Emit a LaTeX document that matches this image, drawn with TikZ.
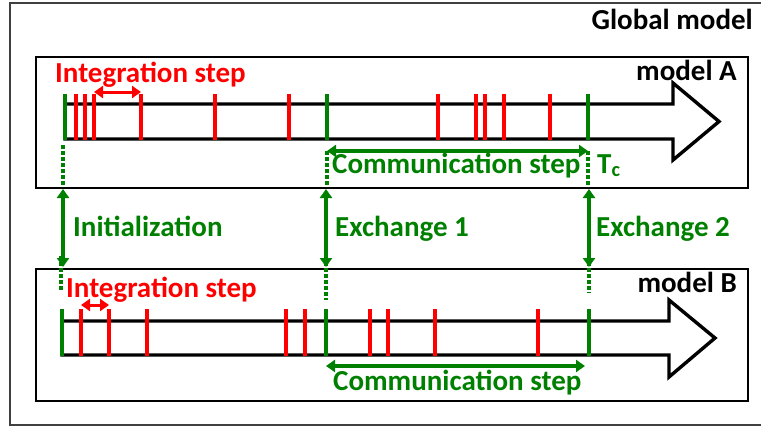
\documentclass[tikz,border=0pt]{standalone}
\usepackage{fontspec}
\setmainfont{Carlito}
\usetikzlibrary{arrows.meta}

\definecolor{simgreen}{RGB}{0,128,0}
\definecolor{simred}{RGB}{255,0,0}

\tikzset{
  lbl/.style={font=\fontsize{29}{32}\selectfont\bfseries, inner sep=0pt},
  globalframe/.style={draw=black!75, line width=1.8pt},
  modelbox/.style={draw=black, line width=1.4pt},
  timeaxis/.style={draw=black, line width=3.4pt, line join=miter, fill=white},
  redtick/.style={draw=simred, line width=3.2pt},
  greentick/.style={draw=simgreen, line width=3.2pt},
  syncline/.style={draw=simgreen, line width=3.6pt, dash pattern=on 3.5pt off 2.5pt},
  steparrow/.style={line width=3.4pt, {Triangle[width=12pt,length=9pt]}-{Triangle[width=12pt,length=9pt]}},
}

\begin{document}
\begin{tikzpicture}[x=1pt, y=-1pt]
\useasboundingbox (0,0) rectangle (761,426);

% Cadres
\draw[globalframe] (10,3) rectangle (775,425);
\draw[modelbox] (36,57) rectangle (748,188);
\draw[modelbox] (36,269) rectangle (748,401);

% Axes du temps
\draw[timeaxis] (65,104) -- (673,104) -- (673,83) -- (719,121.5) -- (673,160) -- (673,139) -- (65,139) -- cycle;
\draw[timeaxis] (62,321) -- (669,321) -- (669,300) -- (715,338) -- (669,377) -- (669,355) -- (62,355) -- cycle;

% Pas d'integration
\foreach \x in {76,85,94,141,215,289,438,476,485,504,550}
  \draw[redtick] (\x,94) -- (\x,140);
\foreach \x in {81,109,147,286,305,370,388,435,538}
  \draw[redtick] (\x,309) -- (\x,356);

% Points de synchronisation
\coordinate (a0) at (65,94);  \coordinate (a1) at (327,94);  \coordinate (a2) at (588,94);
\coordinate (b0) at (62,309); \coordinate (b1) at (326,309); \coordinate (b2) at (589,309);
\foreach \n in {a0,a1,a2}
  \draw[greentick] (\n) -- ++(0,46);
\foreach \n in {b0,b1,b2}
  \draw[greentick] (\n) -- ++(0,47);

% Pointilles
\coordinate (dA0) at (63,145);  \coordinate (eA0) at (63,187);
\coordinate (dA1) at (327,151); \coordinate (eA1) at (327,187);
\coordinate (dA2) at (588,151); \coordinate (eA2) at (588,187);
\coordinate (dB0) at (61,256);  \coordinate (eB0) at (61,290);
\coordinate (dB1) at (326,262); \coordinate (eB1) at (326,300);
\coordinate (dB2) at (589,262); \coordinate (eB2) at (589,293);
\foreach \n in {A0,A1,A2,B0,B1,B2}
  \draw[syncline] (d\n) -- (e\n);

% Echanges
\coordinate (x0) at (63,189);  \coordinate (y0) at (63,267);
\coordinate (x1) at (326,189); \coordinate (y1) at (326,267);
\coordinate (x2) at (589,189); \coordinate (y2) at (589,267);
\foreach \n in {0,1,2}
  \draw[steparrow, simgreen] (x\n) -- (y\n);

% Pas de communication
\draw[steparrow, simgreen] (dA1) -- (dA2);
\coordinate (cB1) at (326,366); \coordinate (cB2) at (585,366);
\draw[steparrow, simgreen] (cB1) -- (cB2);

% Pas d'integration (fleches)
\coordinate (iA1) at (94,92);  \coordinate (iA2) at (141,92);
\coordinate (iB1) at (81,305); \coordinate (iB2) at (109,305);
\draw[steparrow, simred, line width=3pt] (iA1) -- (iA2);
\draw[steparrow, simred, line width=3pt] (iB1) -- (iB2);

% Textes
\node[lbl, anchor=base east] (global) at (753,29) {Global model};
\node[lbl, anchor=base east] (modA) at (737,80) {model A};
\node[lbl, anchor=base east] (modB) at (737,292) {model B};
\node[lbl, text=simred, anchor=base west] (intA) at (55,82) {Integration step};
\node[lbl, text=simred, anchor=base west] (intB) at (66,297) {Integration step};
\node[lbl, text=simgreen, anchor=base west] (comA) at (332,173) {Communication step};
\node[lbl, text=simgreen, anchor=base west] (tc) at (597,173) {T\textsubscript{c}};
\node[lbl, text=simgreen, anchor=base west] (comB) at (333,390) {Communication step};
\node[lbl, text=simgreen, anchor=base west] (init) at (73,236) {Initialization};
\node[lbl, text=simgreen, anchor=base west] (ex1) at (335,236) {Exchange 1};
\node[lbl, text=simgreen, anchor=base west] (ex2) at (596,236) {Exchange 2};

\end{tikzpicture}
\end{document}
